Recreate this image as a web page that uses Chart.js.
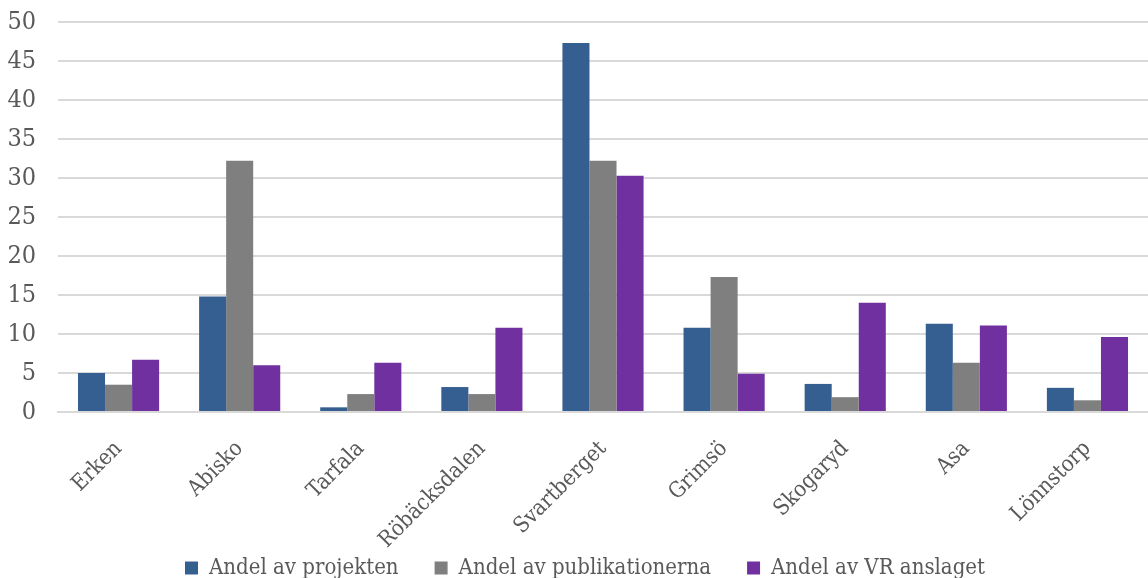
<!DOCTYPE html>
<html>
<head>
<meta charset="utf-8">
<script src="https://cdn.jsdelivr.net/npm/chart.js@4/dist/chart.umd.min.js"></script>
<style>
  html, body { margin: 0; padding: 0; background: #fff; }
  #wrap { width: 1148px; height: 578px; }
</style>
</head>
<body>
<div id="wrap"><canvas id="graf"></canvas></div>
<script>
/* Andel per forskningsstation: projekt, publikationer, VR-anslag (%) */

const STATIONER = ["Erken", "Abisko", "Tarfala", "Röbäcksdalen", "Svartberget",
                   "Grimsö", "Skogaryd", "Asa", "Lönnstorp"];

const PROJEKT = [5.0, 14.8, 0.6, 3.2, 47.3, 10.8, 3.6, 11.3, 3.1];
const PUBLIKATIONER = [3.5, 32.2, 2.3, 2.3, 32.2, 17.3, 1.9, 6.3, 1.5];
const VR_ANSLAG = [6.7, 6.0, 6.3, 10.8, 30.3, 4.9, 14.0, 11.1, 9.6];

const Y_TICKS = [0, 5, 10, 15, 20, 25, 30, 35, 40, 45, 50];

const FONT = "'DejaVu Serif Condensed', 'DejaVu Serif', serif";
const TEXT = "#595959";

// legenden: låg höjd, texten nära underkanten och lite åt höger
const kortLegend = {
  id: "kortLegend",
  beforeInit(chart) {
    const lg = chart.legend;
    const fit = lg.fit;
    lg.fit = function () {
      fit.call(this);
      this.height = 30;
    };
    const draw = lg.draw;
    lg.draw = function (...args) {
      const dy = 27, dx = 11;
      this.top -= dy; this.left += dx; this.right += dx;
      draw.apply(this, args);
      this.top += dy; this.left -= dx; this.right -= dx;
    };
  },
};

new Chart(document.getElementById("graf"), {
  type: "bar",
  data: {
    labels: STATIONER,
    datasets: [
      { label: "Andel av projekten", data: PROJEKT, backgroundColor: "#365f91" },
      { label: "Andel av publikationerna", data: PUBLIKATIONER, backgroundColor: "#7f7f7f" },
      { label: "Andel av VR anslaget", data: VR_ANSLAG, backgroundColor: "#7030a0" },
    ],
  },
  plugins: [kortLegend],
  options: {
    responsive: true,
    maintainAspectRatio: false,
    animation: false,
    layout: { padding: { top: 22, right: 0, left: 0, bottom: 0 } },
    datasets: { bar: { categoryPercentage: 0.67, barPercentage: 1.0 } },
    plugins: {
      tooltip: { enabled: false },
      legend: {
        position: "bottom",
        labels: {
          color: TEXT,
          font: { family: FONT, size: 22 },
          boxWidth: 13, boxHeight: 13, padding: 36,
        },
      },
    },
    scales: {
      x: {
        grid: { display: false },
        border: { color: "#d9d9d9", width: 2 },
        afterFit: axis => { axis.height = 136; },
        ticks: {
          color: TEXT, font: { family: FONT, size: 22 },
          maxRotation: 45, minRotation: 45, padding: 16,
        },
      },
      y: {
        min: 0, max: 50,
        afterBuildTicks: axis => { axis.ticks = Y_TICKS.map(v => ({ value: v })); },
        afterFit: axis => {
          axis.width = 58;
          axis.paddingTop = 0;
          axis.paddingBottom = 0;
        },
        grid: { color: "#d9d9d9", lineWidth: 2, drawTicks: false },
        border: { display: false },
        ticks: { color: TEXT, font: { family: FONT, size: 25 }, padding: 22 },
      },
    },
  },
});
</script>
</body>
</html>
